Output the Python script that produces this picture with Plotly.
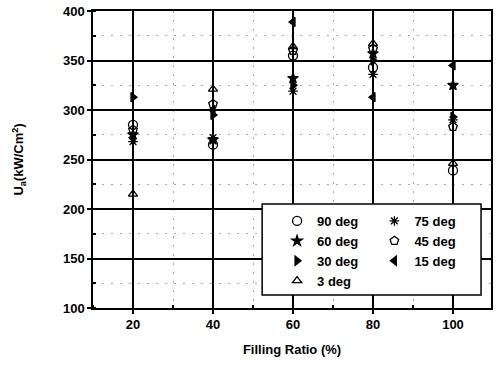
import plotly.graph_objects as go

filling_ratio = [20, 40, 60, 80, 100]

deg90 = [285, 265, 355, 343, 239]
deg75 = [268, 272, 319, 336, 290]
deg60 = [275, 270, 332, 357, 325]
deg45 = [280, 306, 360, 362, 283]
deg30 = [313, 295, 325, 350, 293]
deg15 = [272, 300, 389, 313, 345]
deg3 = [215, 321, 364, 367, 246]

series = [
    ("90 deg", deg90, "circle-open", 9, "legend"),
    ("75 deg", deg75, "asterisk-open", 8, "legend2"),
    ("60 deg", deg60, "star", 8, "legend"),
    ("45 deg", deg45, "pentagon-open", 9, "legend2"),
    ("30 deg", deg30, "triangle-right", 8, "legend"),
    ("15 deg", deg15, "triangle-left", 8, "legend2"),
    ("3 deg", deg3, "triangle-up-open", 8, "legend"),
]

fig = go.Figure()
for name, vals, sym, sz, lg in series:
    fig.add_trace(go.Scatter(
        x=filling_ratio, y=vals, mode="markers", name=name, legend=lg,
        marker=dict(symbol=sym, size=sz, color="black",
                    line=dict(color="black", width=1.3)),
    ))

font_family = "Liberation Sans, Arial, sans-serif"
legend_common = dict(
    orientation="v", xanchor="left", yanchor="top",
    bgcolor="rgba(0,0,0,0)", borderwidth=0,
    font=dict(size=13, family=font_family, weight="bold"), tracegroupgap=0,
)
fig.update_layout(
    width=496, height=365,
    margin=dict(l=93, r=3, t=11, b=57),
    paper_bgcolor="white", plot_bgcolor="white",
    font=dict(family=font_family, color="black", size=13),
    showlegend=True,
    legend=dict(x=0.4625, y=0.3435, **legend_common),
    legend2=dict(x=0.707, y=0.3435, **legend_common),
    shapes=[dict(type="rect", xref="paper", yref="paper",
                 x0=0.425, x1=0.975, y0=0.044, y1=0.35,
                 fillcolor="white", line=dict(color="black", width=1.5),
                 layer="above")],
    xaxis=dict(
        range=[10, 109.5], tickvals=[20, 40, 60, 80, 100],
        showgrid=True, gridcolor="black", gridwidth=1.5,
        showline=True, linecolor="black", linewidth=1.5, mirror=True,
        ticks="outside", ticklen=4, tickcolor="black", tickwidth=1.5,
        zeroline=False,
        minor=dict(dtick=10, showgrid=True, gridcolor="#aaaaaa",
                   griddash="2px,7px", gridwidth=1, ticks="inside", ticklen=3,
                   tickcolor="black"),
        title=dict(text="Filling Ratio (%)", font=dict(size=13, weight="bold"), standoff=14),
        tickfont=dict(size=13, weight="bold"),
    ),
    yaxis=dict(
        range=[100, 400], tickvals=[100, 150, 200, 250, 300, 350, 400],
        showgrid=True, gridcolor="black", gridwidth=1.5,
        showline=True, linecolor="black", linewidth=1.5, mirror=True,
        ticks="outside", ticklen=4, tickcolor="black", tickwidth=1.5,
        zeroline=False,
        minor=dict(dtick=25, showgrid=True, gridcolor="#aaaaaa",
                   griddash="2px,7px", gridwidth=1, ticks="inside", ticklen=3,
                   tickcolor="black"),
        title=dict(text="U<sub>a</sub>(kW/Cm<sup>2</sup>)", font=dict(size=13, weight="bold"), standoff=36),
        tickfont=dict(size=13, weight="bold"),
    ),
)

fig.write_html("out.html", config={"displayModeBar": False},
               post_script="document.body.style.margin='0';")
